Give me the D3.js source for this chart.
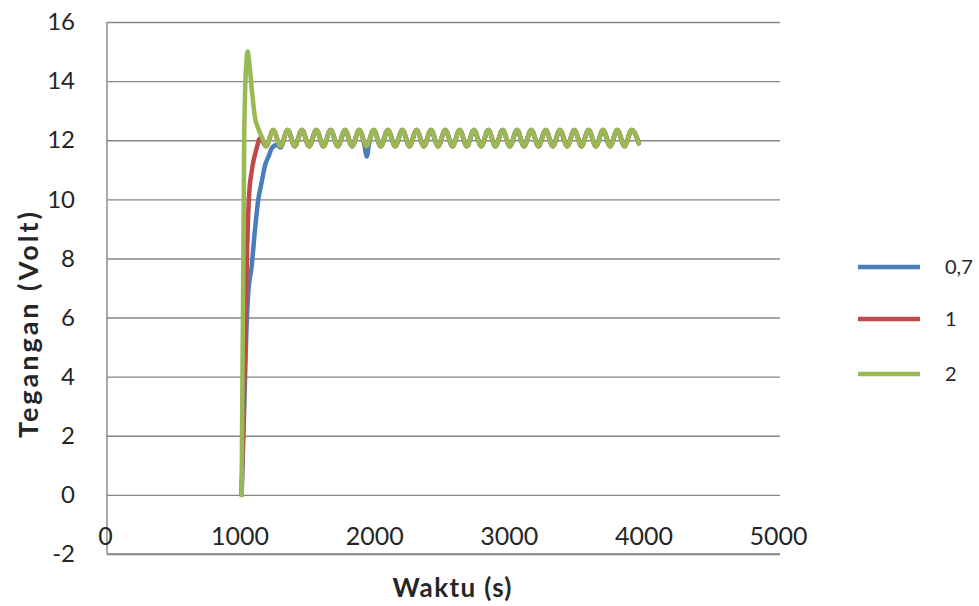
<!DOCTYPE html>
<html><head><meta charset="utf-8">
<script src="https://cdn.jsdelivr.net/npm/d3@7"></script>
<style>body{margin:0;background:#fff} text{font-family:Lato,"Open Sans",sans-serif}</style>
</head><body><svg id="c" width="979" height="606"></svg>
<script>
const xTicks=[0,1000,2000,3000,4000,5000];
const yTicks=[-2,0,2,4,6,8,10,12,14,16];
const seriesNames=["0,7","1","2"];
const seriesColors=["#4A7EBB","#BE4B48","#98B954"];
const blueTime=[1000,1020,1035,1049,1074,1100,1124,1150,1174,1200,1224,1261,1289];
const blueVolt=[0,3,5.5,6.8,7.7,9.0,10.0,10.6,11.15,11.45,11.73,11.85,11.75];
const redTime=[1000,1015,1025,1039,1055,1075,1112,1137];
const redVolt=[0,3,4.5,7.9,10.1,10.95,11.73,12.07];
const greenTime=[1000,1020,1035,1045,1055,1075,1100,1124,1161];
const greenVolt=[0,12.4,14.6,15.0,14.7,13.76,12.75,12.4,12.0];
const steadyTime=[1182,1235,1289,1342,1395,1448,1502,1555,1608,1661,1715,1768,1821,1874,1928,1981,2034,2087,2141,2194,2247,2300,2354,2407,2460,2513,2567,2620,2673,2726,2780,2833,2886,2939,2993,3046,3099,3152,3206,3259,3312,3365,3419,3472,3525,3578,3632,3685,3738,3791,3845,3898,3951];
const steadyVolt=[11.8,12.35,11.8,12.35,11.8,12.35,11.8,12.35,11.8,12.35,11.8,12.35,11.8,12.35,11.8,12.35,11.8,12.35,11.8,12.35,11.8,12.35,11.8,12.35,11.8,12.35,11.8,12.35,11.8,12.35,11.8,12.35,11.8,12.35,11.8,12.35,11.8,12.35,11.8,12.35,11.8,12.35,11.8,12.35,11.8,12.35,11.8,12.35,11.8,12.35,11.8,12.35,11.9];
const blueDipTime=[1912,1930,1946];
const blueDipVolt=[11.85,11.45,11.85];

const svg=d3.select("#c");
const L=107,R=780,T=22,B=554;
const x=d3.scaleLinear().domain([0,5000]).range([L,R]);
const y=d3.scaleLinear().domain([-2,16]).range([B,T]);
const grid="#868686", txt="#262626";
const fmt=d=>String(d);

// y axis with gridlines
const ya=svg.append("g").attr("transform",`translate(${L},0)`)
  .call(d3.axisLeft(y).tickValues(yTicks).tickSize(-(R-L)).tickPadding(32).tickFormat(fmt));
ya.select(".domain").remove();
ya.selectAll(".tick line").attr("stroke",grid).attr("stroke-width",1.4);
ya.selectAll(".tick text").attr("fill",txt).style("font-size","24px").style("font-family","Lato");
svg.append("line").attr("x1",L).attr("x2",L).attr("y1",T).attr("y2",B).attr("stroke",grid).attr("stroke-width",1.4);

// x axis labels
const xa=svg.append("g").attr("transform",`translate(0,${B})`)
  .call(d3.axisBottom(x).tickValues(xTicks).tickSize(0).tickFormat(fmt));
xa.select(".domain").remove();
xa.selectAll(".tick text").attr("fill",txt).style("font-size","25px").style("font-family","Lato")
  .attr("dy",null).attr("y",-9).attr("dx",-2);
svg.append("line").attr("x1",L).attr("x2",R).attr("y1",B).attr("y2",B).attr("stroke",grid).attr("stroke-width",1.4);

// series
function zip(ts,vs){return ts.map((t,i)=>({t:t,v:vs[i]}));}
const steady=zip(steadyTime,steadyVolt);
const blue=zip(blueTime,blueVolt)
  .concat(steady.filter(d=>d.t>1300 && d.t!==1928))
  .concat(zip(blueDipTime,blueDipVolt))
  .sort((a,b)=>a.t-b.t);
const red=zip(redTime,redVolt).concat(steady);
const green=zip(greenTime,greenVolt).concat(steady);
const series=[blue,red,green];
const line=d3.line().x(d=>x(d.t)).y(d=>y(d.v)).curve(d3.curveMonotoneX);
series.forEach((s,i)=>{
  svg.append("path").datum(s).attr("d",line).attr("fill","none")
    .attr("stroke",seriesColors[i]).attr("stroke-width",4.5).attr("stroke-linejoin","round").attr("stroke-linecap","round");
});

// legend
const legY=[267,319,374];
seriesNames.forEach((n,i)=>{
  svg.append("line").attr("x1",858).attr("x2",920).attr("y1",legY[i]).attr("y2",legY[i])
    .attr("stroke",seriesColors[i]).attr("stroke-width",4.5);
  svg.append("text").attr("x",945).attr("y",legY[i]).attr("dy","0.35em").attr("fill",txt)
    .style("font-size","20px").text(n);
});

// axis titles
svg.append("text").attr("x",452).attr("y",597).attr("text-anchor","middle").attr("fill",txt)
  .attr("textLength",119).attr("lengthAdjust","spacing")
  .style("font-size","26px").style("font-weight","bold").text("Waktu (s)");
svg.append("text").attr("transform","translate(38,325) rotate(-90)").attr("text-anchor","middle").attr("fill",txt)
  .attr("textLength",226).attr("lengthAdjust","spacing")
  .style("font-size","27px").style("font-weight","bold").text("Tegangan (Volt)");
</script></body></html>
